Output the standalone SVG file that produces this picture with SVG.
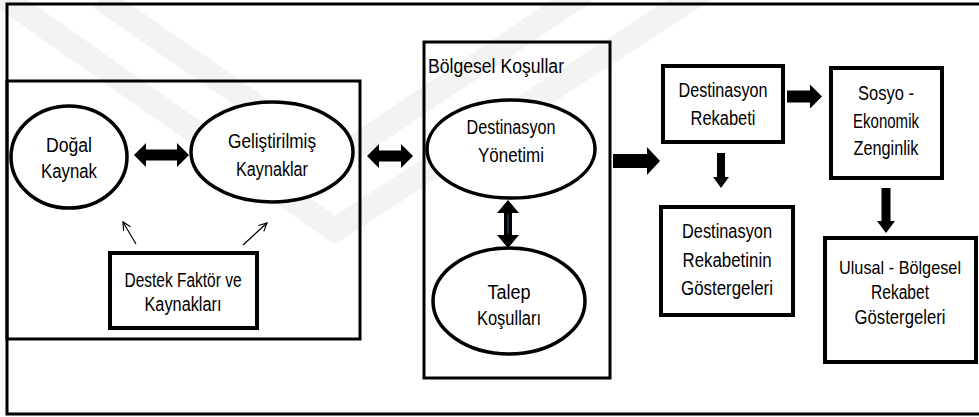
<svg xmlns="http://www.w3.org/2000/svg" width="979" height="417" viewBox="0 0 979 417">
  <defs>
    <marker id="open-tip" viewBox="0 0 10 10" refX="9" refY="5" markerWidth="10" markerHeight="10" markerUnits="userSpaceOnUse" orient="auto">
      <path d="M1,1 L9,5 L1,9" fill="none" stroke="#000" stroke-width="1.2"/>
    </marker>
  </defs>
  <style>
    text { font-family: "Liberation Sans", Arial, sans-serif; font-size: 20px; fill: #000; text-anchor: middle; }
    .frame { fill: none; stroke: #000; stroke-width: 3; }
    .box { fill: #fff; stroke: #000; stroke-width: 4; }
    .oval { fill: #fff; stroke: #000; stroke-width: 3.5; }
    .block { fill: #000; stroke: none; }
    .thin { fill: none; stroke: #000; stroke-width: 1.2; marker-end: url(#open-tip); }
    .mark { fill: none; stroke: #f3f3f3; stroke-width: 24; }
  </style>

  <rect width="979" height="417" fill="#fff"/>

  <!-- faint background emblem -->
  <g id="emblem">
    <path class="mark" d="M0,-5 L335,230 L720,-20"/>
    <path class="mark" d="M100,-2 L335,160 L585,-8"/>
  </g>

  <!-- outer frame (open on the right) -->
  <path class="frame" d="M985,4 L7,4 L7,414 L985,414"/>

  <!-- resource block -->
  <g id="resources">
    <rect class="frame" x="7" y="81" width="353" height="258"/>
    <g id="dogal">
      <ellipse class="oval" cx="69" cy="157" rx="58" ry="51"/>
      <text x="69" y="152" textLength="46" lengthAdjust="spacingAndGlyphs">Doğal</text>
      <text x="69" y="178" textLength="56" lengthAdjust="spacingAndGlyphs">Kaynak</text>
    </g>
    <g id="gelistirilmis">
      <ellipse class="oval" cx="272" cy="152" rx="81" ry="50"/>
      <text x="272" y="148" textLength="88" lengthAdjust="spacingAndGlyphs">Geliştirilmiş</text>
      <text x="272" y="176" textLength="72" lengthAdjust="spacingAndGlyphs">Kaynaklar</text>
    </g>
    <g id="destek">
      <rect class="box" x="110" y="253" width="147" height="75"/>
      <text x="183" y="287" textLength="117" lengthAdjust="spacingAndGlyphs">Destek Faktör ve</text>
      <text x="183" y="311" textLength="77" lengthAdjust="spacingAndGlyphs">Kaynakları</text>
    </g>
  </g>

  <!-- regional conditions block -->
  <g id="bolgesel">
    <rect class="frame" x="424" y="42" width="186" height="336"/>
    <text x="428" y="73" style="text-anchor:start" textLength="136" lengthAdjust="spacingAndGlyphs">Bölgesel Koşullar</text>
    <g id="yonetim">
      <ellipse class="oval" cx="511" cy="149" rx="84" ry="49"/>
      <text x="511" y="134" textLength="89" lengthAdjust="spacingAndGlyphs">Destinasyon</text>
      <text x="511" y="162" textLength="66" lengthAdjust="spacingAndGlyphs">Yönetimi</text>
    </g>
    <g id="talep">
      <ellipse class="oval" cx="509" cy="301" rx="76" ry="53"/>
      <text x="509" y="299" textLength="43" lengthAdjust="spacingAndGlyphs">Talep</text>
      <text x="509" y="325" textLength="64" lengthAdjust="spacingAndGlyphs">Koşulları</text>
    </g>
  </g>

  <g id="rekabet">
    <rect class="box" x="663" y="66" width="120" height="76"/>
    <text x="723" y="97" textLength="89" lengthAdjust="spacingAndGlyphs">Destinasyon</text>
    <text x="723" y="125" textLength="65" lengthAdjust="spacingAndGlyphs">Rekabeti</text>
  </g>

  <g id="sosyo">
    <rect class="box" x="831" y="68" width="111" height="110"/>
    <text x="886" y="100" textLength="56" lengthAdjust="spacingAndGlyphs">Sosyo -</text>
    <text x="886" y="128" textLength="66" lengthAdjust="spacingAndGlyphs">Ekonomik</text>
    <text x="886" y="155" textLength="65" lengthAdjust="spacingAndGlyphs">Zenginlik</text>
  </g>

  <g id="gostergeler">
    <rect class="box" x="661" y="207" width="132" height="108"/>
    <text x="727" y="238" textLength="90" lengthAdjust="spacingAndGlyphs">Destinasyon</text>
    <text x="727" y="267" textLength="89" lengthAdjust="spacingAndGlyphs">Rekabetinin</text>
    <text x="727" y="295" textLength="92" lengthAdjust="spacingAndGlyphs">Göstergeleri</text>
  </g>

  <g id="ulusal">
    <rect class="box" x="825" y="238" width="151" height="124"/>
    <text x="900" y="274" style="font-size:19px" textLength="122" lengthAdjust="spacingAndGlyphs">Ulusal - Bölgesel</text>
    <text x="900" y="299" textLength="58" lengthAdjust="spacingAndGlyphs">Rekabet</text>
    <text x="900" y="324" textLength="91" lengthAdjust="spacingAndGlyphs">Göstergeleri</text>
  </g>

  <!-- connectors -->
  <g id="connectors">
    <!-- Doğal <-> Geliştirilmiş -->
    <polygon class="block" points="134,155 146,143 146,149.5 177,149.5 177,143 189,155 177,167 177,160.5 146,160.5 146,167"/>
    <!-- resources <-> regional conditions -->
    <polygon class="block" points="367,156 379,144 379,150.5 401,150.5 401,144 413,156 401,168 401,161.5 379,161.5 379,168"/>
    <!-- Yönetim <-> Talep -->
    <polygon class="block" points="508,200 519,213 512,213 512,235 519,235 508,248 497,235 504,235 504,213 497,213"/>
    <line x1="508" y1="214" x2="508" y2="234" stroke="#2f5597" stroke-width="1"/>
    <!-- support arrows -->
    <line class="thin" x1="136" y1="244" x2="123" y2="222"/>
    <line class="thin" x1="243" y1="245" x2="267" y2="223"/>
    <!-- regional conditions -> competitiveness -->
    <polygon class="block" points="613,154 647,154 647,147 660,161 647,175 647,168 613,168"/>
    <!-- competitiveness -> socio-economic -->
    <polygon class="block" points="787,90.5 810,90.5 810,84.5 822,96.5 810,108.5 810,102.5 787,102.5"/>
    <!-- competitiveness -> indicators -->
    <polygon class="block" points="717,153 725,153 725,177 729,177 721,188 713,177 717,177"/>
    <!-- socio-economic -> national indicators -->
    <polygon class="block" points="881.5,188 890.5,188 890.5,221 895,221 886,233 877,221 881.5,221"/>
  </g>
</svg>
